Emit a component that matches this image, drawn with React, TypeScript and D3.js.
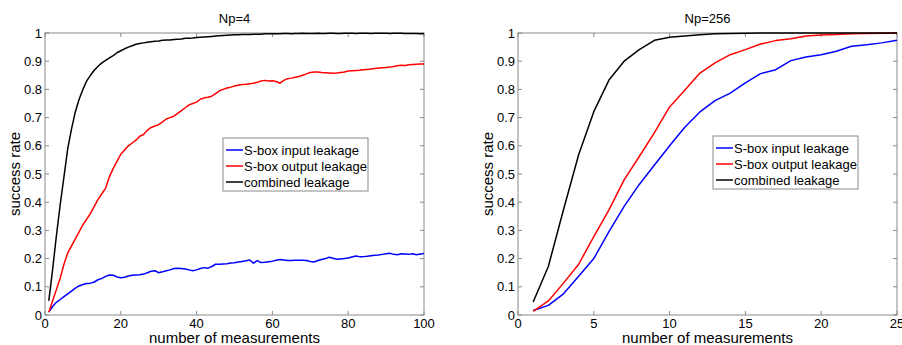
import * as d3 from "d3"

// Np=4 panel: success rate for 1..100 measurements
const leftInput = [
  0.01, 0.03, 0.045, 0.055, 0.065, 0.075, 0.085, 0.095, 0.103, 0.108,
  0.112, 0.113, 0.117, 0.125, 0.13, 0.137, 0.142, 0.141, 0.135, 0.132,
  0.134, 0.138, 0.141, 0.142, 0.143, 0.145, 0.15, 0.155, 0.157, 0.15,
  0.153, 0.157, 0.16, 0.165, 0.166, 0.165, 0.163, 0.16, 0.157, 0.16,
  0.165, 0.168, 0.166, 0.172, 0.18, 0.18, 0.181, 0.182, 0.184, 0.185,
  0.188, 0.19, 0.192, 0.195, 0.184, 0.193, 0.186, 0.187, 0.189, 0.191,
  0.194, 0.197, 0.195, 0.193, 0.193, 0.194, 0.194, 0.194, 0.193, 0.19,
  0.188, 0.193, 0.197, 0.2, 0.205, 0.201, 0.198, 0.199, 0.2, 0.202,
  0.206, 0.209, 0.207, 0.207, 0.208, 0.21, 0.212, 0.213, 0.215, 0.217,
  0.219, 0.215, 0.214, 0.217, 0.216, 0.215, 0.217, 0.214, 0.216, 0.218,
]
const leftOutput = [
  0.01, 0.05, 0.09, 0.13, 0.18, 0.22, 0.245, 0.27, 0.295, 0.32,
  0.34, 0.36, 0.385, 0.41, 0.43, 0.45, 0.49, 0.52, 0.545, 0.57,
  0.585, 0.6, 0.61, 0.62, 0.634, 0.64, 0.655, 0.665, 0.67, 0.675,
  0.685, 0.695, 0.7, 0.705, 0.715, 0.725, 0.735, 0.745, 0.75, 0.755,
  0.765, 0.77, 0.772, 0.776, 0.785, 0.795, 0.8, 0.805, 0.808, 0.812,
  0.815, 0.817, 0.818, 0.82, 0.822, 0.825, 0.83, 0.832, 0.83, 0.831,
  0.828, 0.822, 0.832, 0.838, 0.84, 0.843, 0.846, 0.85, 0.855, 0.86,
  0.862, 0.862, 0.86, 0.859, 0.858, 0.857, 0.858, 0.86, 0.862, 0.865,
  0.866, 0.867, 0.868, 0.87, 0.871, 0.872, 0.874, 0.876, 0.877, 0.878,
  0.879, 0.881, 0.884, 0.886, 0.885, 0.887, 0.888, 0.889, 0.89, 0.89,
]
const leftCombined = [
  0.05, 0.16, 0.28, 0.39, 0.49, 0.59, 0.66, 0.72, 0.765, 0.8,
  0.83, 0.85, 0.868, 0.882, 0.894, 0.903, 0.912, 0.92, 0.93, 0.937,
  0.944, 0.95, 0.955, 0.96, 0.963, 0.965, 0.967, 0.969, 0.971, 0.972,
  0.974, 0.975, 0.975, 0.977, 0.978, 0.979, 0.981, 0.981, 0.982, 0.984,
  0.985, 0.986, 0.987, 0.988, 0.989, 0.99, 0.991, 0.992, 0.993, 0.994,
  0.994, 0.995, 0.995, 0.995, 0.996, 0.996, 0.996, 0.997, 0.997, 0.997,
  0.997, 0.997, 0.998, 0.998, 0.997, 0.998, 0.998, 0.999, 0.998, 0.998,
  0.998, 0.999, 0.998, 0.998, 0.999, 0.999, 0.998, 0.998, 0.999, 0.999,
  0.999, 0.998, 0.999, 0.999, 0.999, 0.998, 0.999, 0.999, 0.999, 0.999,
  0.998, 0.999, 0.999, 0.999, 0.998, 0.998, 0.998, 0.998, 0.997, 0.997,
]

// Np=256 panel: success rate for 1..25 measurements
const rightInput = [
  0.016, 0.034, 0.075, 0.137, 0.2, 0.296, 0.385, 0.463, 0.532, 0.6,
  0.666, 0.72, 0.76, 0.787, 0.823, 0.856, 0.87, 0.902, 0.915, 0.923,
  0.935, 0.953, 0.958, 0.965, 0.974,
]
const rightOutput = [
  0.013, 0.05, 0.113, 0.18, 0.278, 0.373, 0.479, 0.562, 0.647, 0.738,
  0.797, 0.858, 0.894, 0.923, 0.941, 0.961, 0.973, 0.98, 0.989, 0.993,
  0.995, 0.997, 0.998, 0.999, 1.0,
]
const rightCombined = [
  0.046, 0.172, 0.373, 0.568, 0.721, 0.833, 0.9, 0.941, 0.974, 0.985,
  0.989, 0.994, 0.997, 0.998, 0.999, 1, 1, 1, 1, 1,
  1, 1, 1, 1, 1,
]

const seriesNames = ["S-box input leakage", "S-box output leakage", "combined leakage"]
const seriesColors = ["#0000ff", "#ff0000", "#000000"]
const yTicks = [0, 0.1, 0.2, 0.3, 0.4, 0.5, 0.6, 0.7, 0.8, 0.9, 1]

const FONT = "'Liberation Sans', Arial, sans-serif"
const AXIS = "#8a8a8a"

interface PanelProps {
  left: number
  right: number
  title: string
  xMax: number
  xTicks: number[]
  series: number[][]
  legendX: number
  legendY: number
}

function Panel({ left, right, title, xMax, xTicks, series, legendX, legendY }: PanelProps) {
  const top = 33
  const bottom = 315
  const x = d3.scaleLinear().domain([0, xMax]).range([left, right])
  const y = d3.scaleLinear().domain([0, 1]).range([bottom, top])
  const line = d3
    .line<number>()
    .x((_, i) => x(i + 1))
    .y((d) => y(d))
  const tl = 4
  const cx = (left + right) / 2

  return (
    <g>
      <rect x={left} y={top} width={right - left} height={bottom - top} fill="#fff" stroke={AXIS} strokeWidth={1} />
      {xTicks.map((t) => (
        <g key={"x" + t}>
          <line x1={x(t)} x2={x(t)} y1={bottom} y2={bottom - tl} stroke={AXIS} />
          <line x1={x(t)} x2={x(t)} y1={top} y2={top + tl} stroke={AXIS} />
          <text x={x(t)} y={327.5} textAnchor="middle" fontSize={13} fontFamily={FONT} fill="#000">
            {t}
          </text>
        </g>
      ))}
      {yTicks.map((t) => (
        <g key={"y" + t}>
          <line x1={left} x2={left + tl} y1={y(t)} y2={y(t)} stroke={AXIS} />
          <line x1={right} x2={right - tl} y1={y(t)} y2={y(t)} stroke={AXIS} />
          <text x={left - 3} y={y(t) + 4.5} textAnchor="end" fontSize={13} fontFamily={FONT} fill="#000">
            {t}
          </text>
        </g>
      ))}
      {series.map((s, i) => (
        <path key={i} d={line(s) || ""} fill="none" stroke={seriesColors[i]} strokeWidth={1.5} strokeLinejoin="round" />
      ))}
      <text x={cx} y={23} textAnchor="middle" fontSize={13} fontFamily={FONT} fill="#000">
        {title}
      </text>
      <text x={cx} y={342.5} textAnchor="middle" fontSize={15} fontFamily={FONT} fill="#000">
        number of measurements
      </text>
      <text
        transform={`translate(${left - 25},${(top + bottom) / 2}) rotate(-90)`}
        textAnchor="middle"
        fontSize={15}
        fontFamily={FONT}
        fill="#000"
      >
        success rate
      </text>
      <g transform={`translate(${legendX},${legendY})`}>
        <rect x={0} y={0} width={145} height={53} fill="#fff" stroke={AXIS} />
        {seriesNames.map((n, i) => (
          <g key={n} transform={`translate(0,${12 + i * 16})`}>
            <line x1={3} x2={20} y1={0} y2={0} stroke={seriesColors[i]} strokeWidth={1.5} />
            <text x={21} y={4.5} fontSize={13} fontFamily={FONT} fill="#000">
              {n}
            </text>
          </g>
        ))}
      </g>
    </g>
  )
}

export default function App() {
  return (
    <svg width={902} height={345} style={{ position: "absolute", left: 0, top: 0, background: "#fff" }}>
      <Panel
        left={45}
        right={424}
        title="Np=4"
        xMax={100}
        xTicks={[0, 20, 40, 60, 80, 100]}
        series={[leftInput, leftOutput, leftCombined]}
        legendX={223}
        legendY={138}
      />
      <Panel
        left={518}
        right={897}
        title="Np=256"
        xMax={25}
        xTicks={[0, 5, 10, 15, 20, 25]}
        series={[rightInput, rightOutput, rightCombined]}
        legendX={713}
        legendY={136}
      />
    </svg>
  )
}
